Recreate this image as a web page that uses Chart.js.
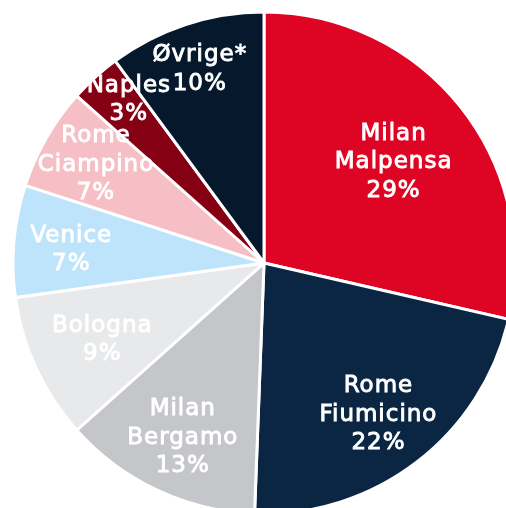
<!DOCTYPE html>
<html>
<head>
<meta charset="utf-8">
<script src="https://cdn.jsdelivr.net/npm/chart.js@4/dist/chart.umd.min.js"></script>
<style>
  html, body { margin: 0; padding: 0; background: #fff; overflow: hidden; }
  #wrap { width: 506px; height: 508px; }
</style>
</head>
<body>
<div id="wrap"><canvas id="pie" width="506" height="508"></canvas></div>
<script>
  "use strict";

  // Data
  var airports = ["Milan Malpensa", "Rome Fiumicino", "Milan Bergamo", "Bologna", "Venice", "Rome Ciampino", "Naples", "Øvrige*"];
  var shares = [28.6, 22.0, 12.8, 9.4, 7.2, 6.6, 3.3, 10.1];

  var colors = ["#de0423", "#0a2643", "#c5c6ca", "#e8e9eb", "#bee4fb", "#f5bfc5", "#860014", "#06182c"];

  // Label placement (fraction of radius, angle nudge in degrees)
  var labelRadius = [0.66, 0.75, 0.76, 0.71, 0.77, 0.78, 0.85, 0.82];
  var labelNudge = [0, 0, 0, 0, -0.5, 1, 3, 0];

  // Slice labels
  var sliceLabels = {
    id: "sliceLabels",
    afterDatasetsDraw: function (chart) {
      var ctx = chart.ctx;
      var meta = chart.getDatasetMeta(0);
      var lineH = 28.5;
      var capH = 16.5;
      ctx.save();
      ctx.fillStyle = "#ffffff";
      ctx.strokeStyle = "#ffffff";
      ctx.lineWidth = 0.9;
      ctx.font = "23px 'DejaVu Sans'";
      ctx.textAlign = "center";
      ctx.textBaseline = "alphabetic";
      if ("letterSpacing" in ctx) ctx.letterSpacing = "1px";
      meta.data.forEach(function (arc, i) {
        var p = arc.getProps(["startAngle", "endAngle", "outerRadius", "x", "y"], true);
        var mid = (p.startAngle + p.endAngle) / 2 + labelNudge[i] * Math.PI / 180;
        var r = p.outerRadius * labelRadius[i];
        var cx = p.x + Math.cos(mid) * r;
        var cy = p.y + Math.sin(mid) * r;
        var lines = airports[i].split(" ").concat([Math.round(shares[i]) + "%"]);
        var first = cy - (lines.length - 1) * lineH / 2 + capH / 2;
        lines.forEach(function (t, k) {
          ctx.fillText(t, cx, first + k * lineH);
          ctx.strokeText(t, cx, first + k * lineH);
        });
      });
      ctx.restore();
    },
  };

  var ctx1 = document.getElementById("pie").getContext("2d");
  var myChart1 = new Chart(ctx1, {
    type: "pie",
    data: {
      labels: airports,
      datasets: [
        {
          data: shares,
          backgroundColor: colors,
          borderColor: "#ffffff",
          borderWidth: 3,
          clip: false,
        },
      ],
    },
    options: {
      responsive: false,
      animation: false,
      radius: 251,
      layout: { padding: { left: 22, top: 18, right: 0, bottom: 0 } },
      plugins: {
        legend: { display: false },
        tooltip: { enabled: false },
      },
    },
    plugins: [sliceLabels],
  });
</script>
</body>
</html>
